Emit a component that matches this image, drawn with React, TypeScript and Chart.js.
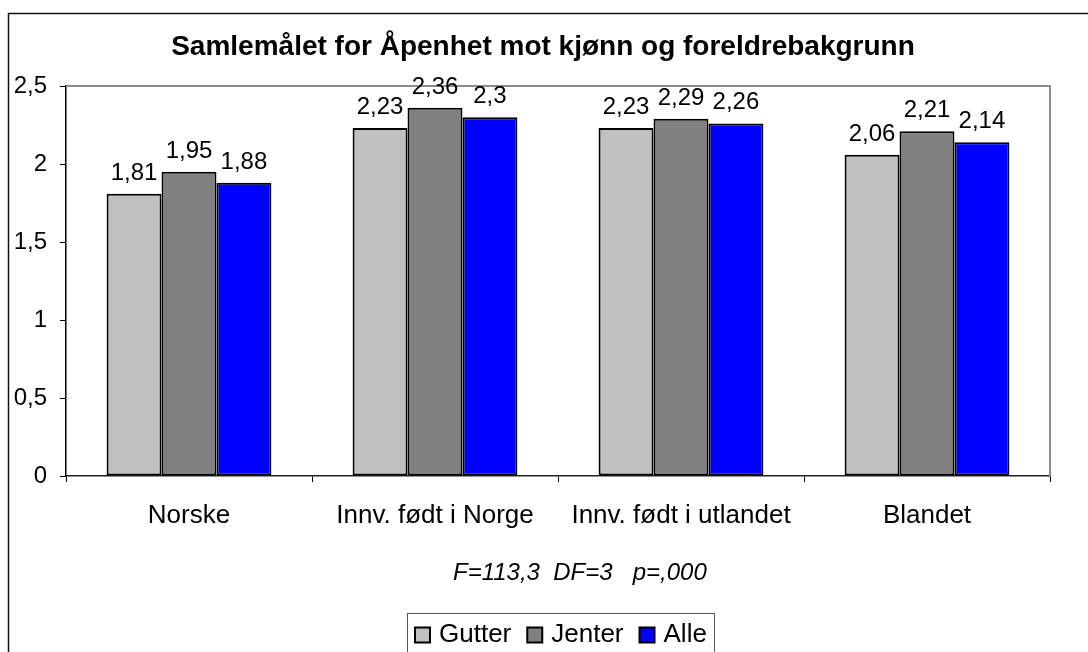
import React, { useEffect, useRef } from 'react';
import { Chart, registerables } from 'chart.js';

Chart.register(...registerables);

const TITLE = 'Samlemålet for Åpenhet mot kjønn og foreldrebakgrunn';
const STATS = 'F=113,3  DF=3   p=,000';
const categories = ['Norske', 'Innv. født i Norge', 'Innv. født i utlandet', 'Blandet'];
const seriesNames = ['Gutter', 'Jenter', 'Alle'];
const gutter = [1.81, 2.23, 2.23, 2.06];
const jenter = [1.95, 2.36, 2.29, 2.21];
const alle = [1.88, 2.3, 2.26, 2.14];
const seriesColors = ['#C0C0C0', '#808080', '#0000FF'];
const yMin = 0;
const yMax = 2.5;
const yStep = 0.5;

const FONT = "'Liberation Sans', Arial, Helvetica, sans-serif";
const fmt = (v: number) => String(Math.round(v * 100) / 100).replace('.', ',');

const decor = {
  id: 'decor',
  beforeDraw(chart: any) {
    const ctx = chart.ctx;
    ctx.save();
    ctx.fillStyle = '#ffffff';
    ctx.fillRect(0, 0, chart.width, chart.height);
    ctx.restore();
  },
  beforeDatasetsDraw(chart: any) {
    const ctx = chart.ctx;
    const { left, top, right, bottom } = chart.chartArea;
    ctx.save();
    ctx.strokeStyle = '#8c8c8c';
    ctx.lineWidth = 2;
    ctx.beginPath();
    ctx.moveTo(left, top);
    ctx.lineTo(right, top);
    ctx.lineTo(right, bottom);
    ctx.stroke();
    ctx.restore();
  },
  afterDraw(chart: any) {
    const ctx = chart.ctx;
    ctx.save();
    // outer frame
    ctx.strokeStyle = '#111';
    ctx.lineWidth = 1.5;
    ctx.beginPath();
    ctx.moveTo(8.5, chart.height + 2);
    ctx.lineTo(8.5, 13.5);
    ctx.lineTo(chart.width + 2, 13.5);
    ctx.stroke();

    // title
    ctx.fillStyle = '#000';
    ctx.font = `bold 28px ${FONT}`;
    ctx.textAlign = 'center';
    ctx.textBaseline = 'middle';
    ctx.fillText(TITLE, 543, 47);

    // stats line
    ctx.font = `italic 24px ${FONT}`;
    ctx.textAlign = 'left';
    ctx.fillText(STATS, 453, 573);

    // data labels
    ctx.font = `24px ${FONT}`;
    ctx.textAlign = 'center';
    ctx.textBaseline = 'alphabetic';
    chart.data.datasets.forEach((ds: any, di: number) => {
      const meta = chart.getDatasetMeta(di);
      meta.data.forEach((el: any, i: number) => {
        ctx.fillText(fmt(ds.data[i]), el.x, el.y - 14);
      });
    });

    // legend
    ctx.strokeStyle = '#555';
    ctx.lineWidth = 1;
    ctx.strokeRect(407.5, 613.5, 307, 60);
    ctx.font = `26px ${FONT}`;
    ctx.textBaseline = 'middle';
    ctx.textAlign = 'left';
    let x = 415;
    const cy = 635;
    chart.data.datasets.forEach((ds: any) => {
      ctx.fillStyle = ds.backgroundColor;
      ctx.fillRect(x, cy - 7.5, 15, 15);
      ctx.strokeStyle = '#000';
      ctx.lineWidth = 2;
      ctx.strokeRect(x, cy - 7.5, 15, 15);
      ctx.fillStyle = '#000';
      ctx.fillText(ds.label, x + 24, cy);
      x += 24 + ctx.measureText(ds.label).width + 16;
    });
    ctx.restore();
  },
};

export default function App() {
  const ref = useRef<HTMLCanvasElement | null>(null);

  useEffect(() => {
    document.body.style.margin = '0';
    const canvas = ref.current;
    if (!canvas) return;
    const values = [gutter, jenter, alle];
    const chart = new Chart(canvas, {
      type: 'bar',
      data: {
        labels: categories,
        datasets: seriesNames.map((name, i) => ({
          label: name,
          data: values[i],
          backgroundColor: seriesColors[i],
          borderColor: '#000000',
          borderWidth: 2,
          borderSkipped: false,
          categoryPercentage: 0.67,
          barPercentage: 1,
        })),
      },
      options: {
        animation: false,
        responsive: false,
        devicePixelRatio: 1,
        layout: { padding: { top: 86, right: 38, left: 0, bottom: 116 } },
        plugins: {
          legend: { display: false },
          title: { display: false },
          tooltip: { enabled: false },
        },
        scales: {
          x: {
            grid: {
              offset: true,
              drawOnChartArea: false,
              drawTicks: true,
              tickLength: 6,
              color: '#000',
            },
            border: { display: true, color: '#222', width: 1.5 },
            ticks: {
              color: '#000',
              font: { family: FONT, size: 26 },
              padding: 18,
              maxRotation: 0,
              autoSkip: false,
            },
            afterFit: (s: any) => {
              s.height = 60;
            },
          },
          y: {
            min: yMin,
            max: yMax,
            grid: {
              drawOnChartArea: false,
              drawTicks: true,
              tickLength: 6,
              color: '#000',
            },
            border: { display: true, color: '#000', width: 1.5 },
            ticks: {
              stepSize: yStep,
              color: '#000',
              font: { family: FONT, size: 24 },
              padding: 13,
              callback: (v: any) => fmt(Number(v)),
            },
            afterFit: (s: any) => {
              s.width = 66;
            },
          },
        },
      },
      plugins: [decor],
    });
    return () => chart.destroy();
  }, []);

  return (
    <div style={{ width: 1088, height: 652, position: 'relative', overflow: 'hidden' }}>
      <canvas ref={ref} width={1088} height={652} style={{ display: 'block' }} />
    </div>
  );
}
